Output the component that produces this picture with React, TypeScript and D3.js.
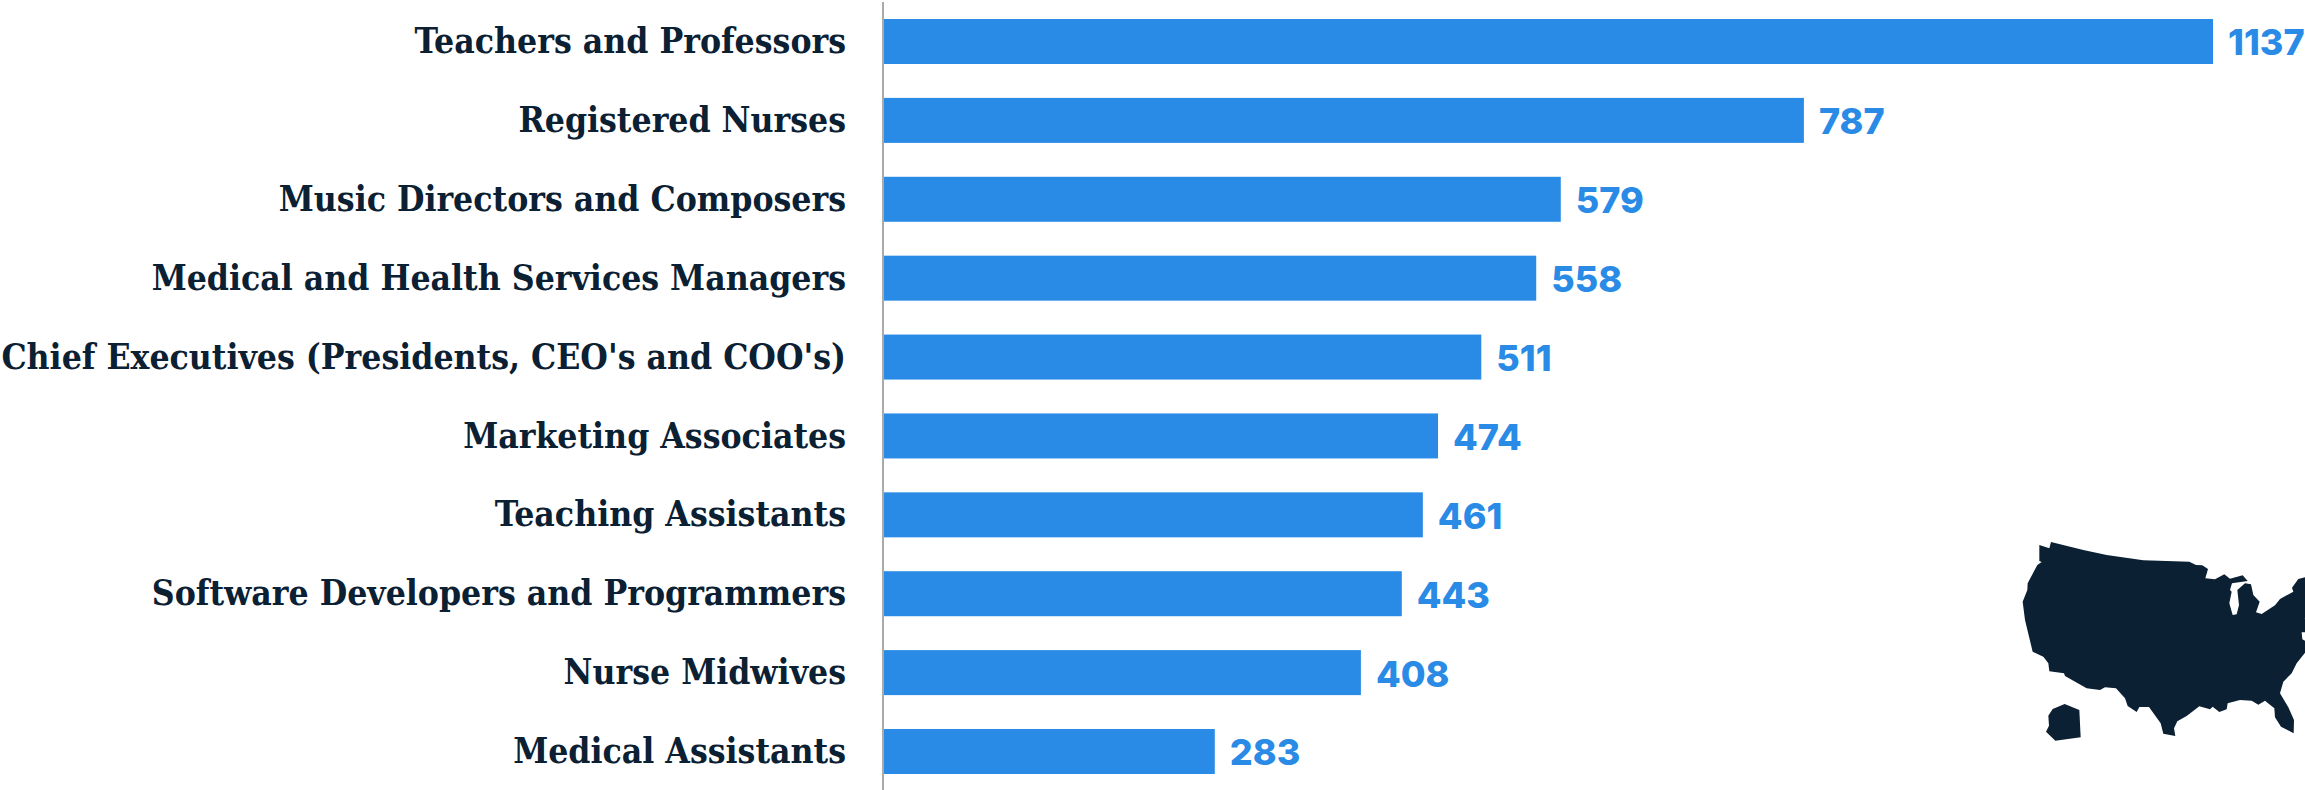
import React from "react";
import * as d3 from "d3";

const categories = [
  "Teachers and Professors",
  "Registered Nurses",
  "Music Directors and Composers",
  "Medical and Health Services Managers",
  "Chief Executives (Presidents, CEO's and COO's)",
  "Marketing Associates",
  "Teaching Assistants",
  "Software Developers and Programmers",
  "Nurse Midwives",
  "Medical Assistants",
];
const values = [1137, 787, 579, 558, 511, 474, 461, 443, 408, 283];

// Map outline, traced in reference pixels
const mainland: [number, number][] = [
  [268,135],[298,145],[303,126],[400,150],[470,165],[580,181],[718,185],[738,195],[757,196],[774,207],[766,235],[795,238],[823,223],[840,236],[878,226],[893,243],[846,250],[840,270],[845,275],[838,310],[848,345],[860,343],[867,315],[862,270],[885,250],[903,253],[910,285],[929,305],[918,337],[935,342],[975,316],[990,297],[1030,275],[1026,263],[1045,237],[1065,232],[1090,225],[1090,352],[1062,355],[1090,358],[1090,395],[1055,397],[1057,418],[1065,422],[1065,458],[1040,490],[1025,520],[1000,545],[990,580],[1015,622],[1032,660],[1031,700],[993,680],[975,652],[973,625],[945,602],[925,614],[905,602],[870,600],[833,610],[830,628],[808,636],[788,620],[780,628],[748,619],[710,648],[682,664],[672,685],[676,708],[640,701],[632,670],[597,621],[568,621],[560,636],[533,618],[525,595],[498,565],[465,562],[450,570],[410,565],[345,528],[342,520],[298,514],[295,490],[280,470],[248,455],[225,360],[218,305],[232,270],[233,250],[262,195],[275,186],[268,183],
];
const alaska: [number, number][] = [
  [308,627],[344,612],[388,630],[392,712],[316,722],[288,695],[297,677],[295,647],
];

const W = 2305, H = 790;
const NAVY = "#0b2033";
const BLUE = "#2a8be6";

export default function App() {
  const x = d3.scaleLinear().domain([0, 1137]).range([884, 2213]);
  const y = d3.scalePoint().domain(categories).range([41.5, 751.5]);
  const mapX = d3.scaleLinear().domain([0, 1065]).range([1950, 2305]);
  const mapY = d3.scaleLinear().domain([0, 870]).range([500, 790]);
  const line = d3.line<[number, number]>().x(d => mapX(d[0])).y(d => mapY(d[1])).curve(d3.curveLinearClosed);
  return (
    <svg width={W} height={H} viewBox={`0 0 ${W} ${H}`} style={{ position: "absolute", left: 0, top: 0, background: "#fff" }}>
      <line x1={883} x2={883} y1={2} y2={790} stroke="#aaaaaa" strokeWidth={2} />
      {categories.map((c, i) => {
        const cy = y(c)!;
        return (
          <g key={c}>
            <rect x={x(0)} y={cy - 22.5} width={x(values[i]) - x(0)} height={45} fill={BLUE} />
            <text x={846} y={cy} dy="0.33em" textAnchor="end" fontFamily="'DejaVu Serif', serif" fontStretch="condensed" fontWeight={700} fontSize={35.2} fill={NAVY}>{c}</text>
            <text x={x(values[i]) + 15} y={cy + 1} dy="0.36em" fontFamily="Inter, sans-serif" fontWeight={800} fontSize={36} fill={BLUE}>{values[i]}</text>
          </g>
        );
      })}
      <path d={line(mainland)!} fill={NAVY} />
      <path d={line(alaska)!} fill={NAVY} />
    </svg>
  );
}
